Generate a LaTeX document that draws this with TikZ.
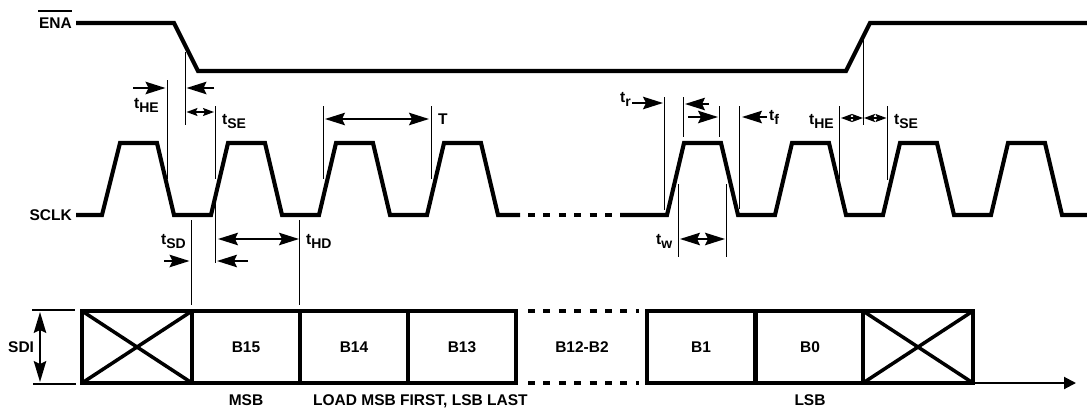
\documentclass[tikz,border=0pt]{standalone}
\usepackage{fontspec}
\setmainfont{Liberation Sans}
\usetikzlibrary{arrows.meta}
\newcommand{\tsub}[1]{t\raisebox{-3.7pt}{\fontsize{14}{14}\selectfont #1}}
\tikzset{
  wave/.style={line width=4.1pt,line join=miter,miter limit=4},
  guide/.style={line width=0.8pt},
  dots/.style={line width=4.1pt,dash pattern=on 7pt off 8.4pt},
  big/.style={line width=1.7pt,-{Stealth[length=20pt,width=12.5pt,inset=3pt]}},
  bigboth/.style={line width=1.7pt,{Stealth[length=20pt,width=12.5pt,inset=3pt]}-{Stealth[length=20pt,width=12.5pt,inset=3pt]}},
  smallboth/.style={line width=1.7pt,{Stealth[length=11pt,width=8pt,inset=2pt]}-{Stealth[length=11pt,width=8pt,inset=2pt]}},
  lab/.style={inner sep=0pt,font=\fontsize{15.5}{18}\selectfont\bfseries},
}
\begin{document}
\begin{tikzpicture}[x=1pt,y=-1pt]
\useasboundingbox (0,0) rectangle (1087,407);
% ENA
\draw[wave] (76,23) -- (174,23) -- (198,71) -- (846,71) -- (870,23) -- (1087,23);
% SCLK
\draw[wave] (76,215) -- (102,215) -- (120,143) -- (157,143) -- (174,215) -- (211,215) -- (228,143) -- (265,143) -- (282,215) -- (319,215) -- (336,143) -- (373,143) -- (390,215) -- (427,215) -- (444,143) -- (481,143) -- (498,215) -- (520,215);
\draw[dots] (528,215) -- (613,215);
\draw[wave] (620,215) -- (667,215) -- (684,143) -- (721,143) -- (738,215) -- (775,215) -- (792,143) -- (829,143) -- (846,215) -- (883,215) -- (900,143) -- (937,143) -- (954,215) -- (991,215) -- (1008,143) -- (1045,143) -- (1062,215) -- (1087,215);
% SDI frame
\coordinate (tl) at (82,311); \coordinate (bl) at (82,383);
\coordinate (t1) at (192,311); \coordinate (b1) at (192,383);
\coordinate (tr) at (973,311); \coordinate (br) at (973,383);
\coordinate (t2) at (863,311); \coordinate (b2) at (863,383);
\draw[wave] (516,311) -- (tl) -- (bl) -- (516,383);
\draw[wave] (t1) -- (b1);
\draw[wave] (300,311) -- (300,383);
\draw[wave] (408,311) -- (408,383);
\draw[wave] (516,309) -- (516,385);
\draw[dots] (528,311) -- (639,311);
\draw[dots] (528,383) -- (639,383);
\draw[wave] (647,309) -- (647,385);
\draw[wave] (647,311) -- (tr) -- (br) -- (647,383);
\draw[wave] (755.5,311) -- (755.5,383);
\draw[wave] (t2) -- (b2);
\draw[line width=3.5pt] (tl) -- (b1) (bl) -- (t1) (t2) -- (br) (b2) -- (tr);
\coordinate (arrowend) at (1076,383);
\draw[line width=2pt,-{Stealth[length=12pt,width=12pt,inset=0pt]}] (br) -- (arrowend);
% guides
\draw[guide] (185,52) -- (185,125);
\draw[guide] (863,35) -- (863,125);
\draw[guide] (167.5,80) -- (167.5,179);
\draw[guide] (215,106) -- (215,179);
\draw[guide] (215,202) -- (215,263);
\draw[guide] (323,106) -- (323,179);
\draw[guide] (431,106) -- (431,179);
\draw[guide] (191,220) -- (191,305);
\draw[guide] (299.5,220) -- (299.5,305);
\draw[guide] (664.5,97) -- (664.5,210);
\draw[guide] (683.5,97) -- (683.5,137);
\draw[guide] (719.5,106) -- (719.5,137);
\draw[guide] (739.5,106) -- (739.5,209);
\draw[guide] (678.5,184) -- (678.5,257);
\draw[guide] (726.5,184) -- (726.5,257);
\draw[guide] (839.5,106) -- (839.5,179);
\draw[guide] (887.5,106) -- (887.5,180);
\draw[line width=1.5pt] (32,310) -- (75,310) (33,384) -- (76,384);
% arrows
\draw[big] (133,88) -- (165.5,88);
\draw[big] (214,88) -- (186.5,88);
\draw[smallboth] (186.5,112) -- (214,112);
\draw[bigboth] (325,119) -- (429,119);
\draw[big] (164,261) -- (189.5,261);
\draw[big] (248,261) -- (217,261);
\draw[bigboth] (218,239) -- (299,239);
\draw[big] (632,103) -- (663,103);
\draw[big] (709,104) -- (685,104);
\draw[big] (688,117) -- (718,117);
\draw[big] (767,117) -- (742,117);
\draw[bigboth] (680,239) -- (725,239);
\draw[smallboth] (841,118) -- (863,118);
\draw[smallboth] (864,118) -- (886.5,118);
\draw[line width=1.7pt,{Stealth[length=21pt,width=12.5pt,inset=3pt]}-{Stealth[length=21pt,width=12.5pt,inset=3pt]}] (40,312) -- (40,382);
% labels
\node[lab,anchor=base east] (ena) at (72,28) {ENA};
\draw[line width=1.3pt] (38,11) -- (72,11);
\node[lab,anchor=base east] (sclk) at (72,220.5) {SCLK};
\node[lab,anchor=base west] (sdi) at (8,352.7) {SDI};
\node[lab,anchor=base west] (the1) at (134,108.5) {\tsub{HE}};
\node[lab,anchor=base west] (tse1) at (222,124.5) {\tsub{SE}};
\node[lab,anchor=base west] (per) at (438,124) {T};
\node[lab,anchor=base west] (tsd) at (161,244.5) {\tsub{SD}};
\node[lab,anchor=base west] (thd) at (306,244.5) {\tsub{HD}};
\node[lab,anchor=base west] (trise) at (620,102.5) {\tsub{r}};
\node[lab,anchor=base west] (tfall) at (769,120.5) {\tsub{f}};
\node[lab,anchor=base west] (the2) at (809,124.5) {\tsub{HE}};
\node[lab,anchor=base west] (tse2) at (894,124.5) {\tsub{SE}};
\node[lab,anchor=base west] (tw) at (656,244.5) {\tsub{w}};
\node[lab,anchor=base] (b15) at (246,352) {B15};
\node[lab,anchor=base] (b14) at (354,352) {B14};
\node[lab,anchor=base] (b13) at (462,352) {B13};
\node[lab,anchor=base] (b12) at (582,352) {B12-B2};
\node[lab,anchor=base] (b1l) at (701,352) {B1};
\node[lab,anchor=base] (b0l) at (810,352) {B0};
\node[lab,anchor=base] (msb) at (246,405) {MSB};
\node[lab,anchor=base west] (load) at (313,405) {LOAD MSB FIRST, LSB LAST};
\node[lab,anchor=base] (lsb) at (810,405) {LSB};
\end{tikzpicture}
\end{document}
